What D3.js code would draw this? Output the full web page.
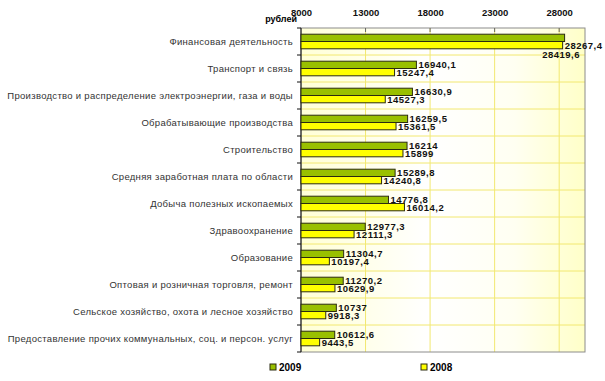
<!DOCTYPE html>
<meta charset="utf-8">
<title>Средняя заработная плата по видам деятельности</title>
<style>
  body { margin: 0; background: #fff; }
  svg { font-family: "Liberation Sans", Arial, sans-serif; }
  .cat { font-size: 9.5px; fill: #333; letter-spacing: 0.3px; }
  .val { font-size: 9.5px; font-weight: bold; fill: #111; letter-spacing: 0.5px; }
  .tick text { font-size: 9.5px; font-weight: bold; fill: #111; }
  .grid line { stroke: #f2e870; stroke-width: 1px; }
</style>

<body>
  <script src="https://d3js.org/d3.v7.min.js"></script>
  <script>
    var categories = [
      "Финансовая деятельность",
      "Транспорт и связь",
      "Производство и распределение электроэнергии, газа и воды",
      "Обрабатывающие производства",
      "Строительство",
      "Средняя заработная плата по области",
      "Добыча полезных ископаемых",
      "Здравоохранение",
      "Образование",
      "Оптовая и розничная торговля, ремонт",
      "Сельское хозяйство, охота и лесное хозяйство",
      "Предоставление прочих коммунальных, соц. и персон. услуг"
    ];
    var series = ["2009", "2008"];
    var values2009 = [28419.6, 16940.1, 16630.9, 16259.5, 16214, 15289.8, 14776.8, 12977.3, 11304.7, 11270.2, 10737, 10612.6];
    var values2008 = [28267.4, 15247.4, 14527.3, 15361.5, 15899, 14240.8, 16014.2, 12111.3, 10197.4, 10629.9, 9918.3, 9443.5];
    var tickValues = [8000, 13000, 18000, 23000, 28000];
    var colors = { "2009": "#99c000", "2008": "#ffff00" };

    var width = 605, height = 381;
    var pLeft = 301, pRight = 585, pTop = 28, pBottom = 352;

    var svg = d3.select("body").append("svg")
      .attr("width", width)
      .attr("height", height);

    // background gradient of the plot area
    var grad = svg.append("defs").append("linearGradient")
      .attr("id", "bg").attr("x1", "0").attr("x2", "1").attr("y1", "0").attr("y2", "0");
    grad.append("stop").attr("offset", "0%").attr("stop-color", "#ffffd6");
    grad.append("stop").attr("offset", "45%").attr("stop-color", "#ffffff");
    grad.append("stop").attr("offset", "75%").attr("stop-color", "#fffff2");
    grad.append("stop").attr("offset", "100%").attr("stop-color", "#ffffc8");

    var x = d3.scaleLinear().domain([8000, 30000]).range([pLeft, pRight]);
    var y = d3.scaleBand().domain(categories).range([pTop, pBottom]);
    var inner = d3.scaleBand().domain(series).range([0, y.bandwidth()]).paddingOuter(0.85);

    svg.append("rect")
      .attr("x", pLeft).attr("y", pTop)
      .attr("width", pRight - pLeft).attr("height", pBottom - pTop)
      .attr("fill", "url(#bg)");

    // grid
    var grid = svg.append("g").attr("class", "grid");
    grid.selectAll(".v").data(tickValues.slice(1)).enter().append("line")
      .attr("x1", d => x(d)).attr("x2", d => x(d))
      .attr("y1", pTop).attr("y2", pBottom);
    grid.selectAll(".h").data(categories.slice(1)).enter().append("line")
      .attr("x1", pLeft).attr("x2", pRight)
      .attr("y1", d => y(d)).attr("y2", d => y(d));

    // plot border
    svg.append("rect")
      .attr("x", pLeft).attr("y", pTop)
      .attr("width", pRight - pLeft).attr("height", pBottom - pTop)
      .attr("fill", "none").attr("stroke", "#8c8c8c").attr("stroke-width", 1);

    // top axis
    var axis = svg.append("g")
      .attr("transform", "translate(0," + 20 + ")")
      .call(d3.axisTop(x).tickValues(tickValues).tickSize(0).tickPadding(4).tickFormat(d3.format("d")));
    axis.select(".domain").remove();
    svg.selectAll(".tk").data(tickValues.slice(1)).enter().append("line")
      .attr("x1", d => x(d)).attr("x2", d => x(d))
      .attr("y1", pTop).attr("y2", pTop + 4)
      .attr("stroke", "#666");

    svg.append("text")
      .attr("x", 297).attr("y", 22)
      .attr("text-anchor", "end")
      .style("font-size", "9px").style("font-weight", "bold")
      .text("рублей");

    // left axis
    svg.append("line")
      .attr("x1", pLeft).attr("x2", pLeft)
      .attr("y1", pTop).attr("y2", pBottom)
      .attr("stroke", "#111");
    svg.selectAll(".ltk").data(categories.concat(["end"])).enter().append("line")
      .attr("x1", pLeft - 4).attr("x2", pLeft)
      .attr("y1", (d, i) => pTop + i * y.step()).attr("y2", (d, i) => pTop + i * y.step())
      .attr("stroke", "#111");

    svg.selectAll(".cat").data(categories).enter().append("text")
      .attr("class", "cat")
      .attr("x", 293)
      .attr("y", d => y(d) + y.bandwidth() / 2 + 3.5)
      .attr("text-anchor", "end")
      .text(d => d);

    var rows = categories.map(function(c, i) {
      return { cat: c, "2009": values2009[i], "2008": values2008[i] };
    });

    var fmt = v => String(v).replace(".", ",");

    var groups = svg.selectAll(".row").data(rows).enter().append("g")
      .attr("transform", d => "translate(0," + y(d.cat) + ")");

    groups.selectAll("rect").data(d => series.map(s => ({ s: s, v: d[s] })))
      .enter().append("rect")
      .attr("x", pLeft)
      .attr("y", d => inner(d.s))
      .attr("width", d => x(d.v) - pLeft)
      .attr("height", inner.bandwidth())
      .attr("fill", d => colors[d.s])
      .attr("stroke", "#2b2b10")
      .attr("stroke-width", 1);

    groups.selectAll(".val").data(d => series.map(s => ({ s: s, v: d[s] })))
      .enter().append("text")
      .attr("class", "val")
      .each(function(d) {
        var t = d3.select(this).text(fmt(d.v));
        var cy = inner(d.s) + inner.bandwidth() / 2 + 3.5;
        if (d.s === "2009" && x(d.v) + 40 > pRight) {
          // does not fit on the right: put it under the bars
          t.attr("x", pRight - 5).attr("y", cy + 17).attr("text-anchor", "end");
        } else {
          t.attr("x", x(d.v) + 2).attr("y", cy + (d.s === "2009" ? -0.5 : 0.5));
        }
      });

    // legend
    var legend = svg.selectAll(".lg").data(series).enter().append("g")
      .attr("transform", (d, i) => "translate(" + (270 + i * 151) + ",364)");
    legend.append("rect")
      .attr("width", 6).attr("height", 6)
      .attr("fill", d => colors[d])
      .attr("stroke", "#2b2b10");
    legend.append("text")
      .attr("x", 9).attr("y", 7)
      .style("font-size", "10px").style("font-weight", "bold")
      .text(d => d);
  </script>
</body>

</html>
